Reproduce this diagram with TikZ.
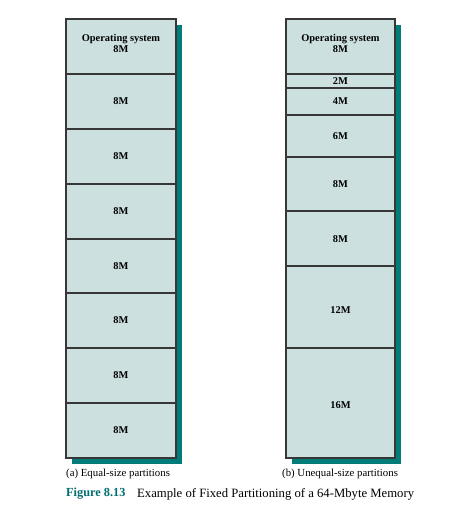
\documentclass[tikz,border=0pt]{standalone}
\usepackage{fontspec}
\setmainfont{Liberation Serif}
\definecolor{partfill}{RGB}{204,224,224}
\definecolor{shadowteal}{RGB}{0,125,120}
\definecolor{edgegray}{RGB}{55,55,55}
\definecolor{figteal}{RGB}{0,110,110}
\begin{document}
\begin{tikzpicture}[x=1pt,y=-1pt,
  shadowbox/.style={fill=shadowteal},
  partbox/.style={fill=partfill},
  outline/.style={draw=edgegray,line width=1.3pt},
  divider/.style={draw=edgegray,line width=1.1pt},
  plabel/.style={font=\bfseries\fontsize{10.4}{11.2}\selectfont,align=center,inner sep=0pt},
  caption/.style={font=\fontsize{10.8}{12}\selectfont,anchor=west,inner sep=0pt}]
\useasboundingbox (0,0) rectangle (463,509);
\fill[white] (0,0) rectangle (463,509);
% left column
\fill[shadowbox] (72,25) rectangle (182,464);
\fill[partbox] (66,19) rectangle (176,458);
\foreach \y in {74,129,184,239,293,348,403} \draw[divider] (66,\y) -- (176,\y);
\draw[outline] (66,19) rectangle (176,458);
\node[plabel] (la) at (121,43.5) {Operating system\\8M};
\node[plabel] (lb) at (121,101.5) {8M};
\node[plabel] (lc) at (121,156.5) {8M};
\node[plabel] (ld) at (121,211.5) {8M};
\node[plabel] (le) at (121,266) {8M};
\node[plabel] (lf) at (121,320.5) {8M};
\node[plabel] (lg) at (121,375.5) {8M};
\node[plabel] (lh) at (121,430.5) {8M};
% right column
\fill[shadowbox] (292,25) rectangle (401,464);
\fill[partbox] (286,19) rectangle (395,458);
\foreach \y in {74,88,115,157,211,266,348} \draw[divider] (286,\y) -- (395,\y);
\draw[outline] (286,19) rectangle (395,458);
\node[plabel] (ra) at (340.5,43.5) {Operating system\\8M};
\node[plabel] (rb) at (340.5,81) {2M};
\node[plabel] (rc) at (340.5,101.5) {4M};
\node[plabel] (rd) at (340.5,136) {6M};
\node[plabel] (re) at (340.5,184) {8M};
\node[plabel] (rf) at (340.5,239) {8M};
\node[plabel] (rg) at (340.5,310) {12M};
\node[plabel] (rh) at (340.5,405) {16M};
% captions
\node[caption] (capa) at (66,474) {(a) Equal-size partitions};
\node[caption] (capb) at (282,474) {(b) Unequal-size partitions};
\node[caption,font=\bfseries\fontsize{12.3}{14}\selectfont,text=figteal] (fig) at (66,494) {Figure 8.13};
\node[caption,font=\fontsize{12.7}{14}\selectfont] (figtext) at (137,494) {Example of Fixed Partitioning of a 64-Mbyte Memory};
\end{tikzpicture}
\end{document}
